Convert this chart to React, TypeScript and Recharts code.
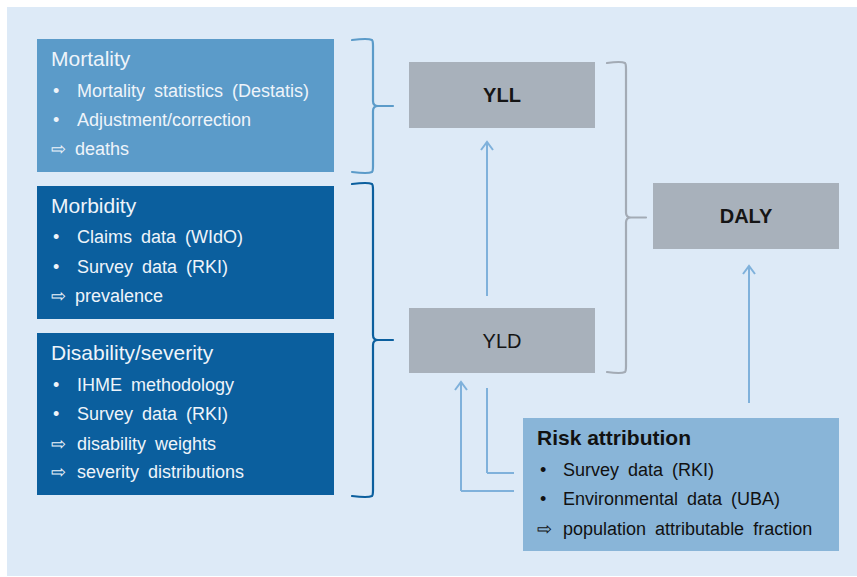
import React from 'react';
import { ComposedChart, XAxis, YAxis, ReferenceArea, ReferenceLine, Scatter } from 'recharts';

const WIDTH = 857;
const HEIGHT = 577;
const FONT = '"Liberation Sans", Arial, Helvetica, sans-serif';

// background panel
const panelX = [7, 857];
const panelY = [7, 576];

// boxes
const boxNames = ['Mortality', 'Morbidity', 'Disability/severity', 'YLL', 'YLD', 'DALY', 'Risk attribution'];
const boxLeft = [37, 37, 37, 409, 409, 653, 523];
const boxRight = [334, 334, 334, 595, 595, 839, 839];
const boxTop = [39, 186, 333, 62, 308, 183, 418];
const boxBottom = [172, 319, 495, 128, 373, 249, 551];
const boxColors = ['#5b9bc9', '#0b5f9e', '#0b5f9e', '#a8b1bb', '#a8b1bb', '#a8b1bb', '#89b5d8'];

// measure labels (YLL, YLD, DALY)
const measureLabels = ['YLL', 'YLD', 'DALY'];
const measureX = [502, 502, 746];
const measureY = [102, 348, 223];
const measureBold = [true, false, true];

// source box titles
const sourceTitles = ['Mortality', 'Morbidity', 'Disability/severity', 'Risk attribution'];
const sourceTitleX = [51, 51, 51, 537];
const sourceTitleY = [66, 213, 360, 445];
const sourceTitleBold = [false, false, false, true];

// items in source boxes
const itemLabels = [
  'Mortality statistics (Destatis)', 'Adjustment/correction', '⇨ deaths',
  'Claims data (WIdO)', 'Survey data (RKI)', '⇨ prevalence',
  'IHME methodology', 'Survey data (RKI)', 'disability weights', 'severity distributions',
  'Survey data (RKI)', 'Environmental data (UBA)', 'population attributable fraction',
];
const itemMarkers = ['•', '•', '', '•', '•', '', '•', '•', '⇨', '⇨', '•', '•', '⇨'];
const itemBox = [0, 0, 0, 1, 1, 1, 2, 2, 2, 2, 3, 3, 3];
const itemY = [97, 126, 155, 243, 273, 302, 391, 420, 450, 478, 476, 505, 535];

// braces
const braceLeft = [352, 352, 607];
const braceRight = [393, 393, 646];
const braceTop = [39, 183, 62];
const braceBottom = [173, 497, 373];
const braceStem = [21, 21, 19];
const braceColors = ['#5b9bc9', '#0b5f9e', '#a3abb5'];

// connectors (polylines) and arrow tips
const connectors: number[][][] = [
  [[487, 296], [487, 142]],
  [[749, 403], [749, 266]],
  [[487, 388], [487, 473], [514, 473]],
  [[514, 491], [461, 491], [461, 382]],
];
const arrowTips = [
  { x: 487, y: 142 },
  { x: 749, y: 266 },
  { x: 461, y: 382 },
];

const LIGHT_TEXT = '#eef4fa';
const DARK_TEXT = '#111111';
const ARROW = '#7fb1db';

const titleRows = sourceTitles.map((label, i) => ({
  x: sourceTitleX[i],
  y: sourceTitleY[i],
  label,
  size: 21,
  bold: sourceTitleBold[i],
  color: i === 3 ? DARK_TEXT : LIGHT_TEXT,
  anchor: 'start',
  ws: 0,
}));

const measureRows = measureLabels.map((label, i) => ({
  x: measureX[i],
  y: measureY[i],
  label,
  size: 20,
  bold: measureBold[i],
  color: '#151515',
  anchor: 'middle',
  ws: 0,
}));

const itemRows = itemLabels.map((label, i) => {
  const risk = itemBox[i] === 3;
  return {
    x: itemMarkers[i] ? (risk ? 563 : 77) : 51,
    y: itemY[i],
    label,
    size: 18,
    bold: false,
    color: risk ? DARK_TEXT : LIGHT_TEXT,
    anchor: 'start',
    ws: 4,
  };
});

const markerRows = itemMarkers
  .map((m, i) => ({ m, i }))
  .filter((d) => d.m !== '')
  .map(({ m, i }) => {
    const risk = itemBox[i] === 3;
    const bullet = m === '•';
    return {
      x: bullet ? (risk ? 540 : 53) : (risk ? 537 : 51),
      y: itemY[i],
      label: m,
      size: 18,
      bold: false,
      color: risk ? DARK_TEXT : LIGHT_TEXT,
      anchor: 'start',
      ws: 0,
    };
  });

const TextShape = (props: any) => {
  const { cx, cy, payload } = props;
  if (cx == null || cy == null) return null;
  return (
    <text
      x={cx}
      y={cy}
      fill={payload.color}
      fontSize={payload.size}
      fontWeight={payload.bold ? 'bold' : 'normal'}
      textAnchor={payload.anchor}
      fontFamily={FONT}
      style={{ wordSpacing: `${payload.ws}px` }}
    >
      {payload.label}
    </text>
  );
};

const ArrowTipShape = (props: any) => {
  const { cx, cy } = props;
  if (cx == null || cy == null) return null;
  return (
    <path
      d={`M ${cx - 6} ${cy + 8} L ${cx} ${cy} L ${cx + 6} ${cy + 8}`}
      stroke={ARROW}
      strokeWidth={2}
      fill="none"
    />
  );
};

const makeBrace = (stem: number, color: string) => (props: any) => {
  const { x, y, width, height } = props;
  const xs = x + stem;
  const mid = y + height / 2;
  const r = 5;
  const d = [
    `M ${x} ${y + 1}`,
    `Q ${xs - r} ${y - 1} ${xs - 1} ${y + 1}`,
    `Q ${xs} ${y + 2} ${xs} ${y + r + 2}`,
    `L ${xs} ${mid - r}`,
    `Q ${xs} ${mid} ${xs + r} ${mid}`,
    `L ${x + width} ${mid}`,
    `M ${xs + r} ${mid}`,
    `Q ${xs} ${mid} ${xs} ${mid + r}`,
    `L ${xs} ${y + height - r - 2}`,
    `Q ${xs} ${y + height - 2} ${xs - 1} ${y + height - 1}`,
    `Q ${xs - r} ${y + height + 1} ${x} ${y + height - 1}`,
  ].join(' ');
  return <path d={d} stroke={color} strokeWidth={2.2} fill="none" strokeLinecap="round" />;
};

export default function App() {
  return (
    <div style={{ position: 'absolute', left: 0, top: 0, width: WIDTH, height: HEIGHT, background: '#ffffff' }}>
      <ComposedChart width={WIDTH} height={HEIGHT} margin={{ top: 0, right: 0, bottom: 0, left: 0 }}>
        <XAxis type="number" dataKey="x" domain={[0, WIDTH]} allowDataOverflow hide />
        <YAxis type="number" dataKey="y" domain={[0, HEIGHT]} allowDataOverflow reversed hide />
        <ReferenceArea
          x1={panelX[0]}
          x2={panelX[1]}
          y1={panelY[0]}
          y2={panelY[1]}
          fill="#ddeaf7"
          fillOpacity={1}
          stroke="none"
          ifOverflow="visible"
        />
        {boxNames.map((name, i) => (
          <ReferenceArea
            key={name}
            x1={boxLeft[i]}
            x2={boxRight[i]}
            y1={boxTop[i]}
            y2={boxBottom[i]}
            fill={boxColors[i]}
            fillOpacity={1}
            stroke="none"
            ifOverflow="visible"
          />
        ))}
        {braceLeft.map((bx, i) => (
          <ReferenceArea
            key={`brace-${i}`}
            x1={bx}
            x2={braceRight[i]}
            y1={braceTop[i]}
            y2={braceBottom[i]}
            ifOverflow="visible"
            shape={makeBrace(braceStem[i], braceColors[i])}
          />
        ))}
        {connectors.flatMap((pts, ci) =>
          pts.slice(1).map((p, si) => (
            <ReferenceLine
              key={`c-${ci}-${si}`}
              segment={[
                { x: pts[si][0], y: pts[si][1] },
                { x: p[0], y: p[1] },
              ]}
              stroke={ARROW}
              strokeWidth={2}
              ifOverflow="visible"
            />
          ))
        )}
        <Scatter data={arrowTips} shape={ArrowTipShape} isAnimationActive={false} />
        <Scatter data={titleRows} shape={TextShape} isAnimationActive={false} />
        <Scatter data={measureRows} shape={TextShape} isAnimationActive={false} />
        <Scatter data={itemRows} shape={TextShape} isAnimationActive={false} />
        <Scatter data={markerRows} shape={TextShape} isAnimationActive={false} />
      </ComposedChart>
    </div>
  );
}
